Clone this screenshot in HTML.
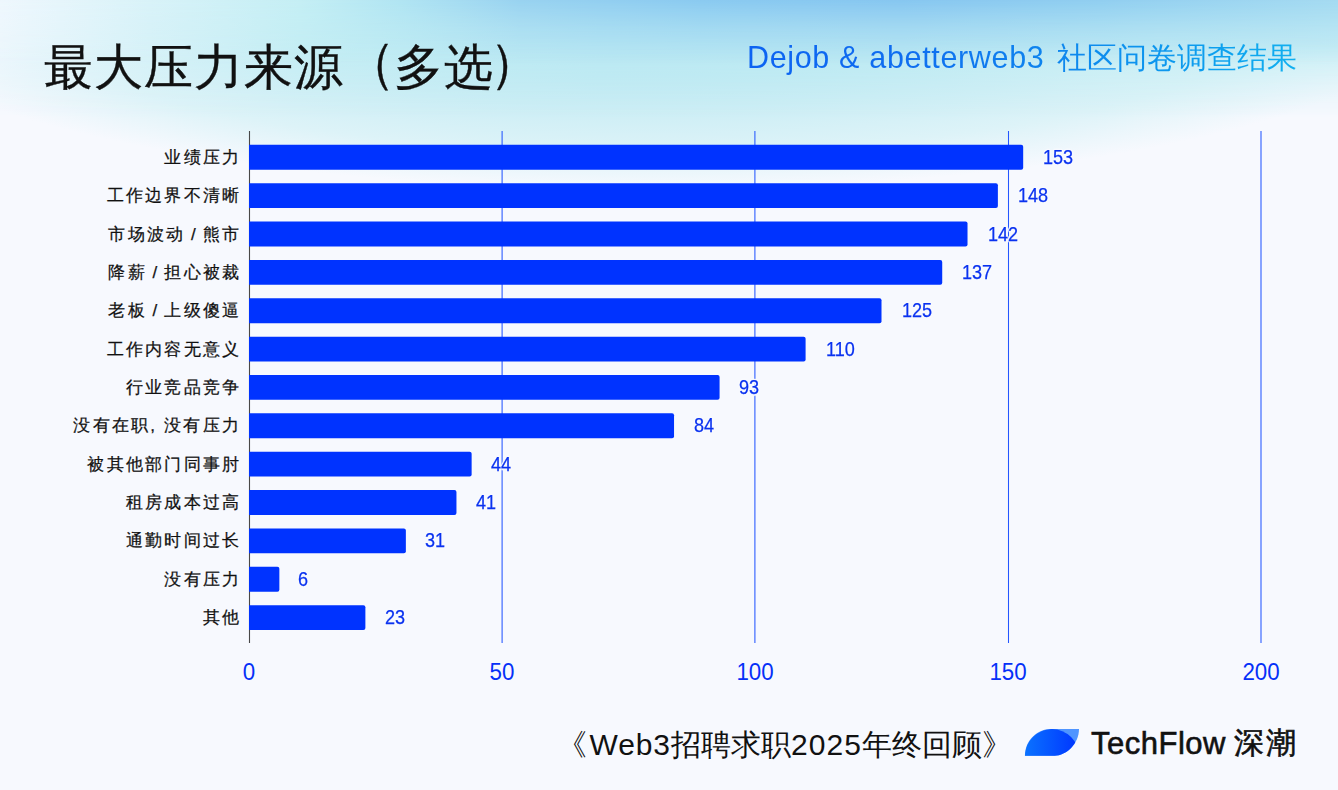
<!DOCTYPE html>
<html><head><meta charset="utf-8">
<style>
*{margin:0;padding:0;box-sizing:border-box}
html,body{width:1338px;height:790px;overflow:hidden}
body{position:relative;font-family:"Liberation Sans",sans-serif;background:#F6F8FE}
#bg{position:absolute;left:0;top:0;width:1338px;height:790px;background:#F7F9FE}
#blob{position:absolute;left:0;top:0;width:1338px;height:260px;
 background:radial-gradient(ellipse 800px 190px at 650px 0px, rgba(176,226,241,1) 0%, rgba(192,234,243,1) 40%, rgba(221,243,248,1) 80%, rgba(247,249,254,0) 100%)}
#cyan{position:absolute;left:0;top:0;width:1338px;height:125px;
 background:linear-gradient(90deg,#EEF7FD 0px,#D6F2F8 150px,#C4EEF4 300px,#BCEAF3 600px,#BEEBF3 900px,#C4EEF4 1150px,#C2EDF4 1338px);
 -webkit-mask-image:linear-gradient(to bottom,#000 0px,rgba(0,0,0,.8) 45px,rgba(0,0,0,.3) 85px,rgba(0,0,0,0) 118px)}
#band{position:absolute;left:0;top:0;width:1338px;height:110px;
 background:linear-gradient(90deg,#EEF7FD 0px,#D8F2F8 150px,#C4EEF4 300px,#B0E4F2 400px,#98D2F0 520px,#8ACAF0 700px,#86C6F0 900px,#90CEF0 1100px,#A4DAF1 1338px);
 -webkit-mask-image:linear-gradient(to bottom,#000 0px,rgba(0,0,0,.5) 28px,rgba(0,0,0,0) 65px)}
.title{position:absolute;left:43.5px;top:37px;font-size:49px;letter-spacing:1px;color:#111;-webkit-text-stroke:0.35px #111;white-space:nowrap;line-height:60px}
.pl{display:inline-block;transform:translate(2px,-5px) scaleY(1.1)}
.pr{display:inline-block;transform:translate(-4px,-5px) scaleY(1.09)}
.sub{position:absolute;left:740px;top:36px;width:570px;height:44px}
.sub span{position:absolute;top:4px;font-size:30px;white-space:nowrap;line-height:36px;
 background-image:linear-gradient(90deg,#0c62f2 0px,#0f6ef0 170px,#0e86ee 315px,#0c9cee 455px,#12b2f0 570px);background-size:570px 36px;background-repeat:no-repeat;
 -webkit-background-clip:text;background-clip:text;color:transparent}
.lab{position:absolute;right:1096.75px;font-size:17px;letter-spacing:2.25px;color:#111;-webkit-text-stroke:0.25px #111;white-space:nowrap;line-height:25px;text-align:right}
.val{position:absolute;font-size:21px;letter-spacing:0px;transform:scaleX(0.86);transform-origin:0 0;color:#0a32f0;-webkit-text-stroke:0.25px #0a32f0;white-space:nowrap;line-height:25px;margin-top:-0.6px;margin-left:0px;text-shadow:1.5px 0 1px #f7f9fe,-1.5px 0 1px #f7f9fe,0 1.5px 1px #f7f9fe,0 -1.5px 1px #f7f9fe,1px 1px 1px #f7f9fe,-1px -1px 1px #f7f9fe,1px -1px 1px #f7f9fe,-1px 1px 1px #f7f9fe}
.xt{position:absolute;top:656px;font-size:24px;color:#0530f8;line-height:30px;white-space:nowrap;transform:translateX(-50%) scaleX(0.93);margin-top:0.5px}
.foot{position:absolute;left:557px;top:727px;font-size:30px;letter-spacing:0px;color:#111;white-space:nowrap;line-height:36px}
.brand{position:absolute;left:1091px;top:726px;font-size:31px;letter-spacing:0.5px;color:#111;white-space:nowrap;line-height:36px;-webkit-text-stroke:0.6px #111}
.brand2{position:absolute;left:1234px;top:725px;font-size:30px;letter-spacing:2px;color:#111;white-space:nowrap;line-height:36px;-webkit-text-stroke:0.6px #111}
</style></head><body>
<div id="bg"></div><div id="blob"></div><div id="cyan"></div><div id="band"></div>
<div class="title">最大压力来源<span class="pl">（</span>多选<span class="pr">）</span></div>
<div class="sub"><span style="left:7px;top:3px;font-size:30.5px;letter-spacing:0.66px;background-position:-7px 0">Dejob &amp; abetterweb3</span><span style="left:317px;background-position:-317px 0">社区问卷调查结果</span></div>

<svg style="position:absolute;left:0;top:0" width="1338" height="790">
 <g stroke="#2456ff" stroke-width="1.05" shape-rendering="geometricPrecision">
  <line x1="502.1" y1="131" x2="502.1" y2="643"/>
  <line x1="754.9" y1="131" x2="754.9" y2="643"/>
  <line x1="1008.5" y1="131" x2="1008.5" y2="643"/>
  <line x1="1261.0" y1="131" x2="1261.0" y2="643"/>
 </g>
 <line x1="249.5" y1="131" x2="249.5" y2="643" stroke="#484848" stroke-width="1.1"/>
</svg>
<svg style="position:absolute;left:0;top:0" width="1338" height="790"><g fill="#0033ff"><path d="M249.00 144.85H1021.18Q1023.18 144.85 1023.18 146.85V167.70Q1023.18 169.70 1021.18 169.70H249.00Z"/><path d="M249.00 183.21H995.88Q997.88 183.21 997.88 185.21V206.06Q997.88 208.06 995.88 208.06H249.00Z"/><path d="M249.00 221.57H965.52Q967.52 221.57 967.52 223.57V244.42Q967.52 246.42 965.52 246.42H249.00Z"/><path d="M249.00 259.93H940.22Q942.22 259.93 942.22 261.93V282.78Q942.22 284.78 940.22 284.78H249.00Z"/><path d="M249.00 298.29H879.50Q881.50 298.29 881.50 300.29V321.14Q881.50 323.14 879.50 323.14H249.00Z"/><path d="M249.00 336.65H803.60Q805.60 336.65 805.60 338.65V359.50Q805.60 361.50 803.60 361.50H249.00Z"/><path d="M249.00 375.01H717.58Q719.58 375.01 719.58 377.01V397.86Q719.58 399.86 717.58 399.86H249.00Z"/><path d="M249.00 413.37H672.04Q674.04 413.37 674.04 415.37V436.22Q674.04 438.22 672.04 438.22H249.00Z"/><path d="M249.00 451.73H469.64Q471.64 451.73 471.64 453.73V474.58Q471.64 476.58 469.64 476.58H249.00Z"/><path d="M249.00 490.09H454.46Q456.46 490.09 456.46 492.09V512.94Q456.46 514.94 454.46 514.94H249.00Z"/><path d="M249.00 528.45H403.86Q405.86 528.45 405.86 530.45V551.30Q405.86 553.30 403.86 553.30H249.00Z"/><path d="M249.00 566.81H277.36Q279.36 566.81 279.36 568.81V589.66Q279.36 591.66 277.36 591.66H249.00Z"/><path d="M249.00 605.17H363.38Q365.38 605.17 365.38 607.17V628.02Q365.38 630.02 363.38 630.02H249.00Z"/></g></svg>



<div class="lab" style="top:145px">业绩压力</div>
<div class="lab" style="top:183px">工作边界不清晰</div>
<div class="lab" style="top:222px">市场波动<span style="letter-spacing:1.1px"> / </span>熊市</div>
<div class="lab" style="top:260px">降薪<span style="letter-spacing:1.1px"> / </span>担心被裁</div>
<div class="lab" style="top:298px">老板<span style="letter-spacing:1.1px"> / </span>上级傻逼</div>
<div class="lab" style="top:337px">工作内容无意义</div>
<div class="lab" style="top:375px">行业竞品竞争</div>
<div class="lab" style="top:413px">没有在职, 没有压力</div>
<div class="lab" style="top:452px">被其他部门同事肘</div>
<div class="lab" style="top:490px">租房成本过高</div>
<div class="lab" style="top:528px">通勤时间过长</div>
<div class="lab" style="top:567px">没有压力</div>
<div class="lab" style="top:605px">其他</div>

<div class="val" style="top:145px;left:1043px">153</div>
<div class="val" style="top:183px;left:1018px">148</div>
<div class="val" style="top:222px;left:988px">142</div>
<div class="val" style="top:260px;left:962px">137</div>
<div class="val" style="top:298px;left:902px">125</div>
<div class="val" style="top:337px;left:826px">110</div>
<div class="val" style="top:375px;left:739px">93</div>
<div class="val" style="top:413px;left:694px">84</div>
<div class="val" style="top:452px;left:491px">44</div>
<div class="val" style="top:490px;left:476px">41</div>
<div class="val" style="top:528px;left:425px">31</div>
<div class="val" style="top:567px;left:298px">6</div>
<div class="val" style="top:605px;left:385px">23</div>

<div class="xt" style="left:249px">0</div>
<div class="xt" style="left:502px">50</div>
<div class="xt" style="left:755px">100</div>
<div class="xt" style="left:1008px">150</div>
<div class="xt" style="left:1261px">200</div>

<div class="foot">《<span style="letter-spacing:0.9px;margin-left:2.5px">Web3</span>招聘求职<span style="letter-spacing:1.1px">2025</span>年终回顾》</div>
<svg style="position:absolute;left:1018px;top:722px" width="68" height="40" viewBox="0 0 68 40">
 <defs><linearGradient id="lg" x1="0" y1="0" x2="1" y2="0"><stop offset="0" stop-color="#0a72ff"/><stop offset="1" stop-color="#0034ff"/></linearGradient>
 <clipPath id="lc"><path d="M6.9 33.8 C6.9 18 20 7.1 32.5 7.1 L61 7.1 C61 22 48 33.8 36.6 33.8 Z"/></clipPath></defs>
 <path d="M6.9 33.8 C6.9 18 20 7.1 32.5 7.1 L61 7.1 C61 22 48 33.8 36.6 33.8 Z" fill="#4f95ff"/>
 <ellipse cx="34" cy="33.8" rx="27" ry="26.7" fill="url(#lg)" clip-path="url(#lc)"/>
</svg>
<div class="brand">TechFlow</div><div class="brand2">深潮</div>
</body></html>
